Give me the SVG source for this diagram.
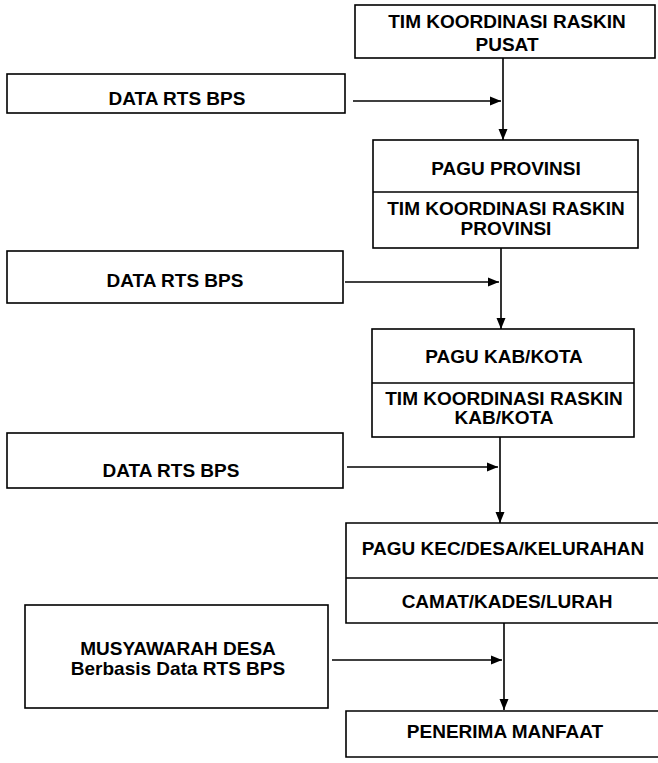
<svg xmlns="http://www.w3.org/2000/svg" width="658" height="763" viewBox="0 0 658 763">
<style>
  .box{fill:#fff;stroke:#000;stroke-width:1.6}
  .ln{fill:none;stroke:#000;stroke-width:1.6}
  .t{font-family:"Liberation Sans",Arial,sans-serif;font-weight:bold;font-size:19px;fill:#000;text-anchor:middle}
</style>
<defs>
  <marker id="ah" markerUnits="userSpaceOnUse" markerWidth="12" markerHeight="10" refX="11" refY="5" orient="auto">
    <path d="M0,0.5 L11,5 L0,9.5 Z" fill="#000"/>
  </marker>
</defs>
<rect width="658" height="763" fill="#fff"/>

<g id="connectors">
  <line class="ln" x1="503" y1="58" x2="503" y2="140" marker-end="url(#ah)"/>
  <line class="ln" x1="501" y1="248" x2="501" y2="329" marker-end="url(#ah)"/>
  <line class="ln" x1="500" y1="437" x2="500" y2="523" marker-end="url(#ah)"/>
  <line class="ln" x1="504" y1="623" x2="504" y2="710" marker-end="url(#ah)"/>
  <line class="ln" x1="353" y1="101" x2="501" y2="101" marker-end="url(#ah)"/>
  <line class="ln" x1="345" y1="282" x2="499" y2="282" marker-end="url(#ah)"/>
  <line class="ln" x1="347" y1="467" x2="498" y2="467" marker-end="url(#ah)"/>
  <line class="ln" x1="332" y1="660" x2="502" y2="660" marker-end="url(#ah)"/>
</g>

<g id="tim-pusat">
  <rect class="box" x="355" y="5" width="300" height="53"/>
  <text class="t" x="507" y="28">TIM KOORDINASI RASKIN</text>
  <text class="t" x="507" y="51">PUSAT</text>
</g>

<g id="data-rts-1">
  <rect class="box" x="7" y="74" width="338" height="39"/>
  <text class="t" x="177" y="105">DATA RTS BPS</text>
</g>

<g id="pagu-provinsi">
  <rect class="box" x="373" y="140" width="265" height="108"/>
  <line class="ln" x1="373" y1="192" x2="638" y2="192"/>
  <text class="t" x="506" y="175">PAGU PROVINSI</text>
  <text class="t" x="506" y="215">TIM KOORDINASI RASKIN</text>
  <text class="t" x="506" y="235">PROVINSI</text>
</g>

<g id="data-rts-2">
  <rect class="box" x="7" y="251" width="336" height="52"/>
  <text class="t" x="175" y="287">DATA RTS BPS</text>
</g>

<g id="pagu-kabkota">
  <rect class="box" x="372" y="329" width="262" height="108"/>
  <line class="ln" x1="372" y1="383" x2="634" y2="383"/>
  <text class="t" x="504" y="363">PAGU KAB/KOTA</text>
  <text class="t" x="504" y="405">TIM KOORDINASI RASKIN</text>
  <text class="t" x="504" y="424">KAB/KOTA</text>
</g>

<g id="data-rts-3">
  <rect class="box" x="7" y="433" width="336" height="55"/>
  <text class="t" x="171" y="477">DATA RTS BPS</text>
</g>

<g id="pagu-kec">
  <path class="ln" d="M658,523 H346 V623 H658"/>
  <line class="ln" x1="346" y1="578" x2="658" y2="578"/>
  <text class="t" x="503" y="555">PAGU KEC/DESA/KELURAHAN</text>
  <text class="t" x="507" y="608">CAMAT/KADES/LURAH</text>
</g>

<g id="musyawarah">
  <rect class="box" x="25" y="605" width="303" height="103"/>
  <text class="t" x="178" y="655">MUSYAWARAH DESA</text>
  <text class="t" x="178" y="675">Berbasis Data RTS BPS</text>
</g>

<g id="penerima">
  <path class="ln" d="M658,711 H346 V757 H658"/>
  <text class="t" x="505" y="738">PENERIMA MANFAAT</text>
</g>
</svg>
